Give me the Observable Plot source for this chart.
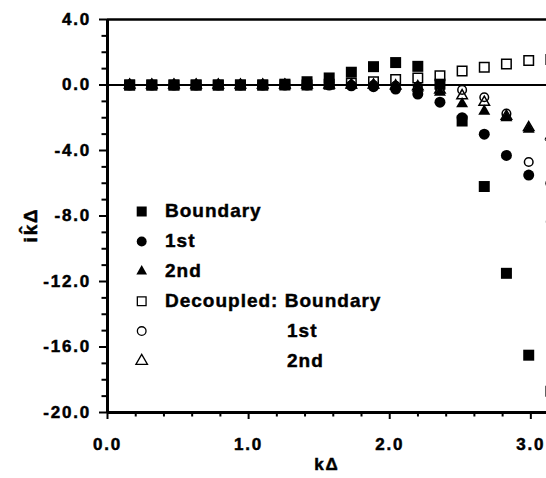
<!DOCTYPE html>
<html>
<head>
<meta charset="utf-8">
<script src="https://cdn.jsdelivr.net/npm/d3@7"></script>
<script src="https://cdn.jsdelivr.net/npm/@observablehq/plot@0.6"></script>
<style>
  body { margin: 0; background: #fff; }
  #chart { position: relative; width: 546px; height: 478px; overflow: hidden; background: #fff; }
  #chart svg.plot text { letter-spacing: 1.8px; font-weight: bold; fill: #000; stroke: #000; stroke-width: 0.5px; }
  #chart svg.plot g[aria-label$="tick label"] { font-size: 17px; font-weight: bold; }
  #legend { position: absolute; left: 0; top: 0; pointer-events: none; }
  #legend text { font-family: "Liberation Sans", Arial, sans-serif; font-weight: bold; font-size: 19px; letter-spacing: 1px; fill: #000; stroke: #000; stroke-width: 0.45px; }
</style>
</head>
<body>
<div id="chart"></div>
<script>
// Wavenumber kΔ for the 20 modes (kπ/20, k = 1..20)
const kDelta = [0.157, 0.314, 0.471, 0.628, 0.785, 0.942, 1.100, 1.257, 1.414, 1.571,
                1.728, 1.885, 2.042, 2.199, 2.356, 2.513, 2.670, 2.827, 2.985, 3.142];

// Modified wavenumber (imaginary part) for each closure
const boundary    = [0, 0, 0, 0, 0, 0, 0, 0.05, 0.2, 0.43, 0.78, 1.12, 1.37, 1.14, 0.05, -2.2, -6.2, -11.5, -16.5, -18.7];
const first       = [0, 0, 0, 0, 0, 0, 0, 0, 0, 0, -0.05, -0.1, -0.25, -0.55, -1.05, -2.0, -3.0, -4.3, -5.5, -6.0];
const second      = [0, 0, 0, 0, 0, 0, 0, 0, 0, 0, 0, 0, -0.1, -0.2, -0.45, -1.15, -1.6, -2.0, -2.7, -3.2];
const decBoundary = [0, 0, 0, 0, 0, 0, 0, 0, 0, 0.05, 0.1, 0.2, 0.33, 0.42, 0.57, 0.86, 1.08, 1.29, 1.49, 1.55];
const decFirst    = [0, 0, 0, 0, 0, 0, 0, 0, 0, 0, 0, 0, -0.05, -0.1, -0.2, -0.3, -0.75, -1.75, -4.7, -8.35];
const decSecond   = [0, 0, 0, 0, 0, 0, 0, 0, 0, 0, 0, 0, -0.05, -0.1, -0.3, -0.65, -1.05, -1.9, -2.6, -3.1];

// Axis ticks
const xMajor = [0, 1, 2, 3];
const xMinor = [0.2, 0.4, 0.6, 0.8, 1.2, 1.4, 1.6, 1.8, 2.2, 2.4, 2.6, 2.8];
const yMajor = [4, 0, -4, -8, -12, -16, -20];
const yMinor = [3, 2, 1, -1, -2, -3, -5, -6, -7, -9, -10, -11, -13, -14, -15, -17, -18, -19];

// Legend entries
const legendLabels = ["Boundary", "1st", "2nd", "Decoupled: Boundary", "1st", "2nd"];

const pts = (ys) => kDelta.map((x, i) => ({x, y: ys[i]}));
const fmt = (d) => d.toFixed(1);
const font = "Liberation Sans, Arial, Helvetica, sans-serif";

const plot = Plot.plot({
  width: 546,
  height: 478,
  marginLeft: 107,
  marginRight: 0,
  marginTop: 19,
  marginBottom: 66,
  style: {fontFamily: font, fontWeight: "bold", fontSize: "16px", color: "#000", background: "#fff", overflow: "visible"},
  x: {domain: [0, 3.111]},
  y: {domain: [-20, 4]},
  marks: [
    // frame lines
    Plot.ruleY([0], {stroke: "#000", strokeWidth: 2}),
    Plot.ruleY([4], {stroke: "#000", strokeWidth: 2.5}),
    Plot.ruleX([0], {stroke: "#000", strokeWidth: 3}),
    Plot.ruleY([-20], {stroke: "#000", strokeWidth: 3}),
    // axes
    Plot.axisY(yMinor, {tickSize: 5.5, strokeWidth: 2, text: null, label: null}),
    Plot.axisY(yMajor, {tickSize: 8, strokeWidth: 2, tickPadding: 8.5, tickFormat: fmt, fontSize: 17, fontWeight: "bold", label: null}),
    Plot.axisX(xMinor, {tickSize: 4.5, strokeWidth: 2, text: null, label: null}),
    Plot.axisX(xMajor, {tickSize: 7, strokeWidth: 2, tickPadding: 18, tickFormat: fmt, fontSize: 17, fontWeight: "bold", label: null}),
    // axis titles
    Plot.text(["i\u006B\u0302\u0394"], {frameAnchor: "left", textAnchor: "middle", dx: -77, dy: 9, rotate: -90, fontSize: 19, fontWeight: "bold"}),
    Plot.text(["k\u0394"], {frameAnchor: "bottom", dy: 57, fontSize: 17, fontWeight: "bold"}),
    // filled markers
    Plot.dot(pts(boundary), {x: "x", y: "y", symbol: "square", r: 6.2, fill: "#000", clip: true}),
    Plot.dot(pts(first), {x: "x", y: "y", symbol: "circle", r: 5.5, fill: "#000", clip: true}),
    Plot.dot(pts(second), {x: "x", y: "y", symbol: "triangle", r: 4.45, fill: "#000", clip: true}),
    // open markers
    Plot.dot(pts(decBoundary), {x: "x", y: "y", symbol: "square", r: 5.36, fill: "none", stroke: "#000", strokeWidth: 1.5, clip: true}),
    Plot.dot(pts(decFirst), {x: "x", y: "y", symbol: "circle", r: 4.3, fill: "none", stroke: "#000", strokeWidth: 1.5, clip: true}),
    Plot.dot(pts(decSecond), {x: "x", y: "y", symbol: "triangle", r: 3.9, fill: "none", stroke: "#000", strokeWidth: 1.5, clip: true})
  ]
});
plot.classList.add("plot");
document.getElementById("chart").appendChild(plot);

// Legend drawn inside the plot area
const symbols = [
  {type: d3.symbolSquare, size: 100, filled: true},
  {type: d3.symbolCircle, size: 78, filled: true},
  {type: d3.symbolTriangle, size: 50, filled: true},
  {type: d3.symbolSquare, size: 76, filled: false},
  {type: d3.symbolCircle, size: 59, filled: false},
  {type: d3.symbolTriangle, size: 58, filled: false}
];
const textX = [165, 165, 165, 165, 287, 287];
const legend = d3.select("#chart").append("svg")
  .attr("id", "legend").attr("width", 546).attr("height", 478);
legendLabels.forEach((label, i) => {
  const base = 217.3 + 29.9 * i;
  const s = symbols[i];
  legend.append("path")
    .attr("transform", `translate(141.7,${base - 5.8})`)
    .attr("d", d3.symbol(s.type, s.size)())
    .attr("fill", s.filled ? "#000" : "none")
    .attr("stroke", s.filled ? "none" : "#000")
    .attr("stroke-width", 1.3);
  legend.append("text").attr("x", textX[i]).attr("y", base).text(label);
});
</script>
</body>
</html>
